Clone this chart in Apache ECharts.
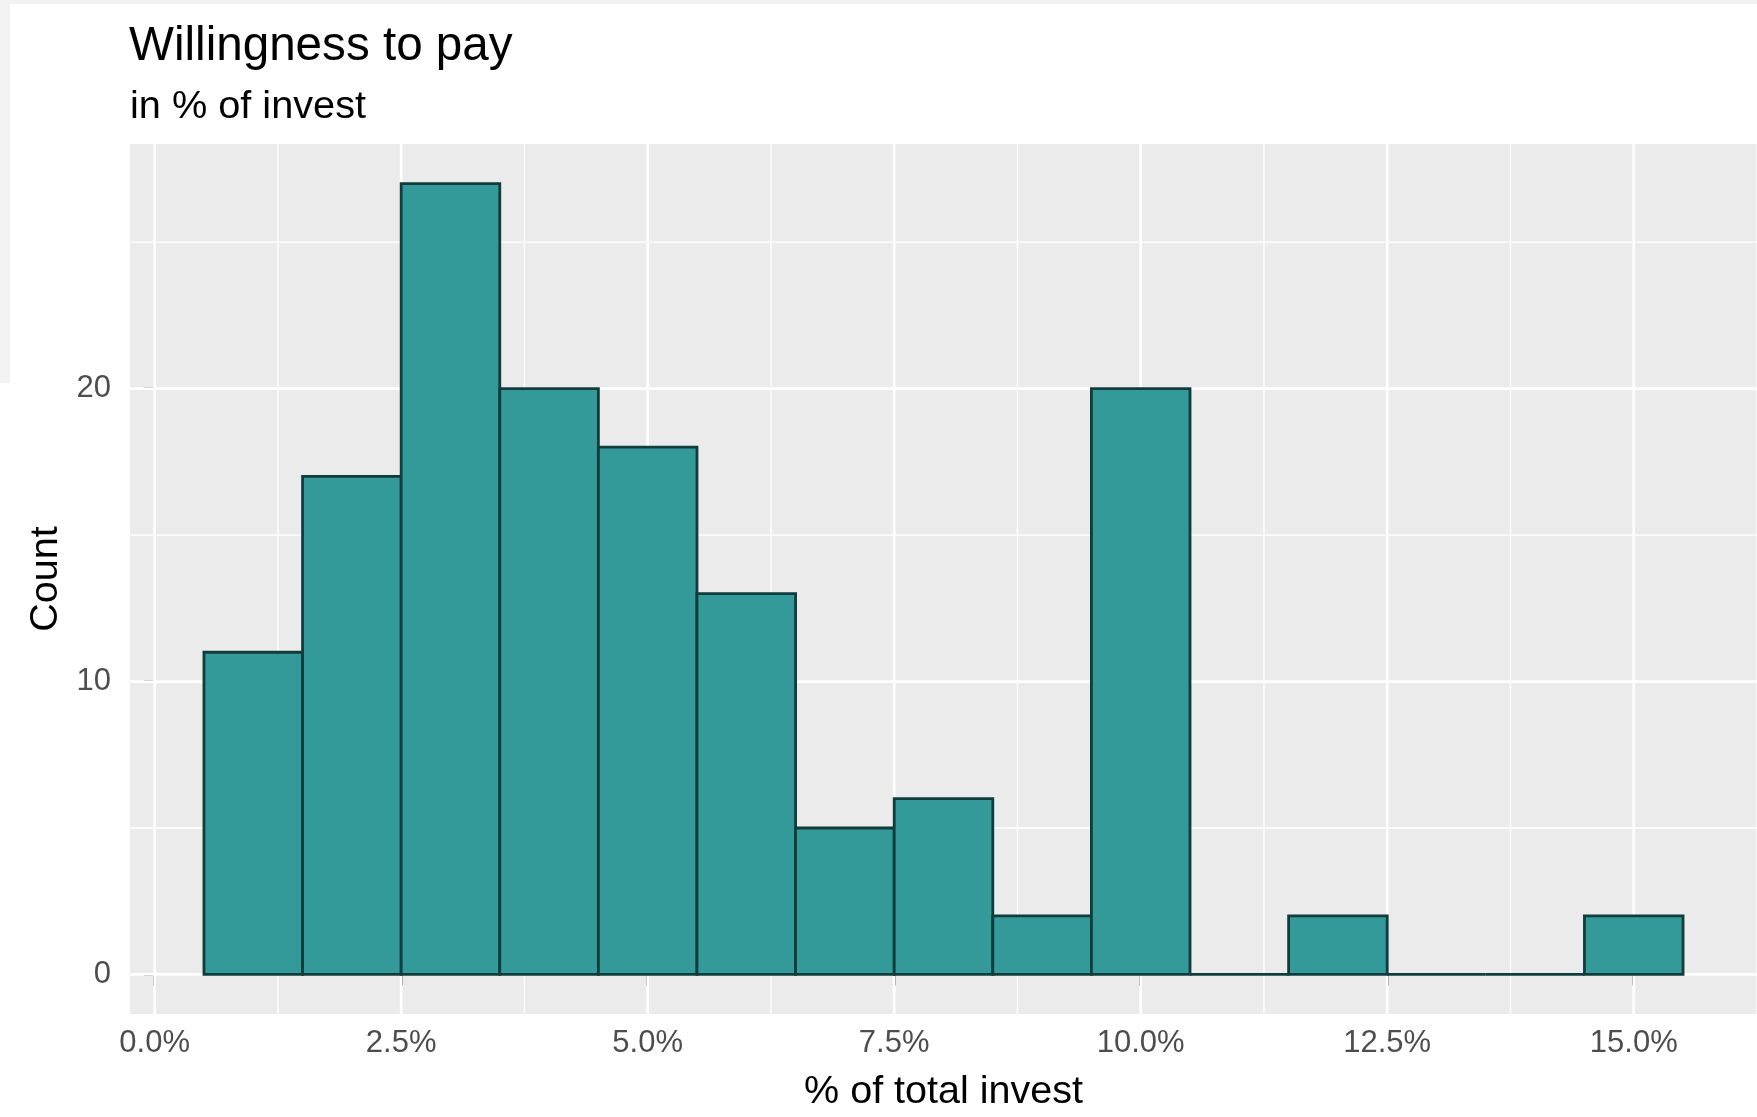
<!DOCTYPE html>
<html><head><meta charset="utf-8">
<script src="https://cdn.jsdelivr.net/npm/echarts@6/dist/echarts.min.js"></script>
<style>html,body{margin:0;padding:0;background:#fff}#c{width:1757px;height:1117px}</style>
</head><body><div id="c"></div>
<script>
// ---- data ----
const binCenters = [1, 2, 3, 4, 5, 6, 7, 8, 9, 10, 11, 12, 13, 14, 15];
const counts = [11, 17, 27, 20, 18, 13, 5, 6, 2, 20, 0, 2, 0, 0, 2];
const binWidth = 1;
const xMajor = [0, 2.5, 5, 7.5, 10, 12.5, 15];
const xMinor = [1.25, 3.75, 6.25, 8.75, 11.25, 13.75, 16.25];
const yMajor = [0, 10, 20];
const yMinor = [5, 15, 25];
const titleText = 'Willingness to pay';
const subtitleText = 'in % of invest';
const xTitle = '% of total invest';
const yTitle = 'Count';

const xMin = -0.25, xMax = 16.25, yMin = -1.35, yMax = 28.35;
const FONT = '"Liberation Sans", Arial, Helvetica, sans-serif';

const chart = echarts.init(document.getElementById('c'), null, {renderer: 'canvas'});

function vLine(w) {
  return function (params, api) {
    const v = api.value(0);
    const a = api.coord([v, yMin]);
    const b = api.coord([v, yMax]);
    return {type: 'line', shape: {x1: a[0], y1: a[1], x2: b[0], y2: b[1]},
      style: {stroke: '#ffffff', lineWidth: w}};
  };
}
function hLine(w) {
  return function (params, api) {
    const v = api.value(0);
    const a = api.coord([xMin, v]);
    const b = api.coord([xMax, v]);
    return {type: 'line', shape: {x1: a[0], y1: a[1], x2: b[0], y2: b[1]},
      style: {stroke: '#ffffff', lineWidth: w}};
  };
}

const option = {
  backgroundColor: '#ffffff',
  animation: false,
  title: [
    {text: titleText, left: 124, top: 18,
      textStyle: {fontFamily: FONT, fontSize: 47.6, fontWeight: 'normal', color: '#000'}},
    {text: subtitleText, left: 125, top: 82,
      textStyle: {fontFamily: FONT, fontSize: 39.7, fontWeight: 'normal', color: '#000'}}
  ],
  graphic: [
    {type: 'rect', shape: {x: 0, y: 0, width: 1757, height: 4}, style: {fill: '#f3f3f3'}, silent: true},
    {type: 'rect', shape: {x: 0, y: 0, width: 10, height: 383}, style: {fill: '#f3f3f3'}, silent: true}
  ],
  grid: {left: 130, top: 144, width: 1632, height: 880, show: true,
    backgroundColor: '#ebebeb', borderWidth: 0},
  xAxis: {
    type: 'value', min: xMin, max: xMax,
    name: xTitle, nameLocation: 'middle', nameGap: 58,
    nameTextStyle: {fontFamily: FONT, fontSize: 39.5, color: '#000'},
    axisLine: {show: false},
    splitLine: {show: false},
    axisTick: {show: true, customValues: xMajor, length: 11, lineStyle: {color: '#333333', width: 2.6}},
    axisLabel: {show: true, customValues: xMajor, margin: 14,
      fontFamily: FONT, fontSize: 31, color: '#4d4d4d',
      formatter: v => v.toFixed(1) + '%'}
  },
  yAxis: {
    type: 'value', min: yMin, max: yMax,
    name: yTitle, nameLocation: 'middle', nameGap: 64, nameRotate: 90,
    nameTextStyle: {fontFamily: FONT, fontSize: 39.5, color: '#000'},
    axisLine: {show: false},
    splitLine: {show: false},
    axisTick: {show: true, customValues: yMajor, length: 11, lineStyle: {color: '#333333', width: 2.6}},
    axisLabel: {show: true, customValues: yMajor, margin: 19,
      fontFamily: FONT, fontSize: 31, color: '#4d4d4d'}
  },
  series: [
    {type: 'custom', name: 'xminor', z: 1, clip: true, silent: true,
      renderItem: vLine(1.3), data: xMinor.map(v => [v])},
    {type: 'custom', name: 'yminor', z: 1, clip: true, silent: true,
      renderItem: hLine(1.3), data: yMinor.map(v => [v])},
    {type: 'custom', name: 'xmajor', z: 2, clip: true, silent: true,
      renderItem: vLine(2.7), data: xMajor.map(v => [v])},
    {type: 'custom', name: 'ymajor', z: 2, clip: true, silent: true,
      renderItem: hLine(2.7), data: yMajor.map(v => [v])},
    {type: 'custom', name: 'Count', z: 5, clip: true,
      renderItem: function (params, api) {
        const x = api.value(0), c = api.value(1);
        const p0 = api.coord([x - binWidth / 2, c]);
        const p1 = api.coord([x + binWidth / 2, 0]);
        return {type: 'rect',
          shape: {x: p0[0], y: p0[1], width: p1[0] - p0[0], height: p1[1] - p0[1]},
          style: {fill: '#339999', stroke: '#113c3c', lineWidth: 2.8}};
      },
      data: binCenters.map((b, i) => [b, counts[i]])}
  ]
};
chart.setOption(option);
</script>
</body></html>
